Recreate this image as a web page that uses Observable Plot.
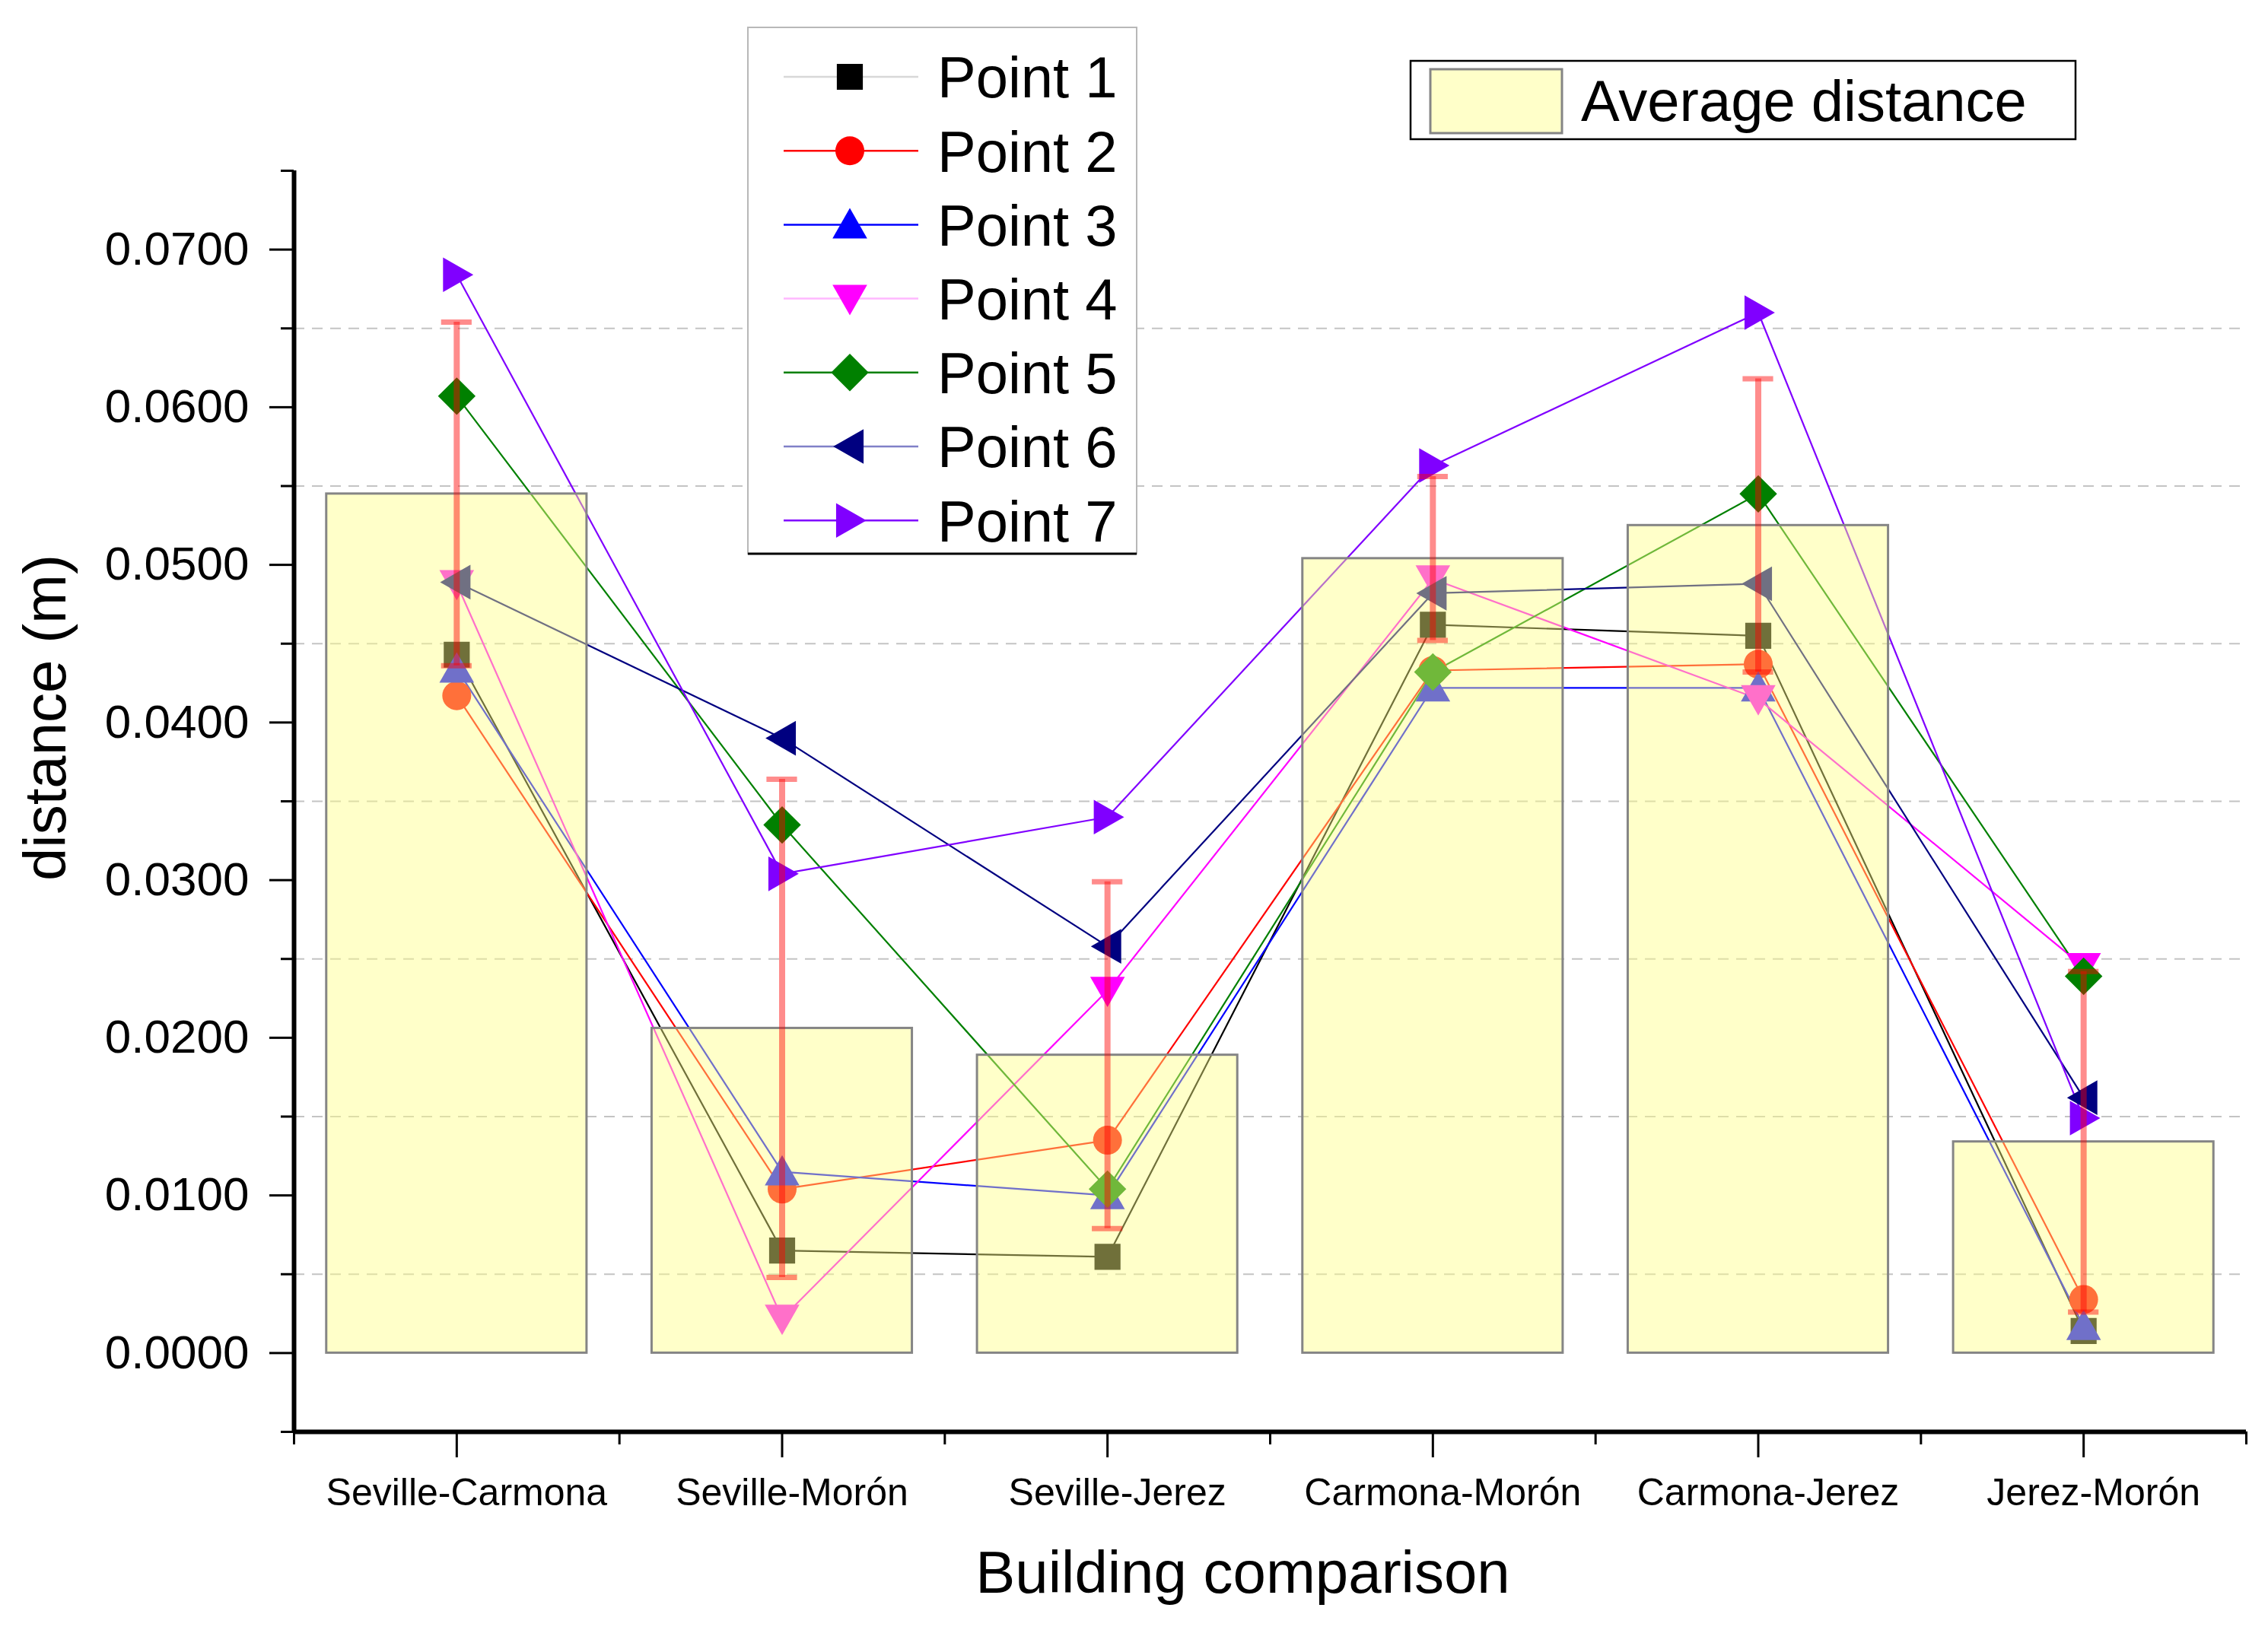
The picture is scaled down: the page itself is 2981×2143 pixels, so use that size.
<!DOCTYPE html>
<html><head><meta charset="utf-8">
<script src="https://cdn.jsdelivr.net/npm/d3@7"></script>
<script src="https://cdn.jsdelivr.net/npm/@observablehq/plot@0.6"></script>
<style>
html,body{margin:0;padding:0;background:#fff}
#wrap{position:relative;width:2981px;height:2143px}
#legend{position:absolute;left:0;top:0;pointer-events:none}
</style>
</head><body><div id="wrap"></div>
<script>
// ---------- data ----------
const categories = ["Seville-Carmona","Seville-Morón","Seville-Jerez","Carmona-Morón","Carmona-Jerez","Jerez-Morón"];
const avgDistance = [0.0545, 0.0206, 0.0189, 0.0504, 0.0525, 0.0134];
const stdDev      = [0.0109, 0.0158, 0.0110, 0.0052, 0.0093, 0.0108];
const point1 = [0.0443, 0.0065, 0.0061, 0.0462, 0.0455, 0.0014];
const point2 = [0.0417, 0.0104, 0.0135, 0.0433, 0.0437, 0.0034];
const point3 = [0.0434, 0.0115, 0.0100, 0.0422, 0.0422, 0.0017];
const point4 = [0.0488, 0.0022, 0.0230, 0.0491, 0.0415, 0.0245];
const point5 = [0.0607, 0.0335, 0.0104, 0.0432, 0.0545, 0.0239];
const point6 = [0.0489, 0.0390, 0.0258, 0.0482, 0.0488, 0.0162];
const point7 = [0.0684, 0.0304, 0.0340, 0.0563, 0.0660, 0.0149];
const seriesNames = ["Point 1","Point 2","Point 3","Point 4","Point 5","Point 6","Point 7"];
const seriesValues = [point1, point2, point3, point4, point5, point6, point7];
const yMajorTicks = [0, 0.01, 0.02, 0.03, 0.04, 0.05, 0.06, 0.07];
const yMinorTicks = [-0.005, 0.005, 0.015, 0.025, 0.035, 0.045, 0.055, 0.065, 0.075];
const gridValues  = [0.005, 0.015, 0.025, 0.035, 0.045, 0.055, 0.065];
const barLegendLabel = "Average distance";
const xTitle = "Building comparison";
const yTitle = "distance (m)";

// ---------- styles ----------
const seriesColors = ["#000000","#ff0000","#0000ff","#ff00ff","#008000","#000080","#8000ff"];
const legendLineColors = ["#d8d8d8","#ff0000","#0000ff","#ffb8ff","#008000","#8080c8","#8000ff"];
function poly(ctx, pts){ ctx.moveTo(pts[0][0],pts[0][1]); for(let k=1;k<pts.length;k++) ctx.lineTo(pts[k][0],pts[k][1]); ctx.closePath(); }
const rad = s => Math.sqrt(s/Math.PI);
const squareSym = {draw(ctx,s){const h=0.9*rad(s); poly(ctx,[[-h,-h],[h,-h],[h,h],[-h,h]]);}};
const circleSym = {draw(ctx,s){const r=rad(s); ctx.moveTo(r,0); ctx.arc(0,0,r,0,2*Math.PI);}};
const diamondSym = {draw(ctx,s){const h=1.3*rad(s); poly(ctx,[[0,-h],[h,0],[0,h],[-h,0]]);}};
function tri(dir){return {draw(ctx,s){const r=rad(s),a=1.2*r,b=1.15*r,c=0.95*r;
  let p;
  if(dir==="up") p=[[0,-b],[a,c],[-a,c]];
  else if(dir==="down") p=[[0,b],[a,-c],[-a,-c]];
  else if(dir==="left") p=[[-b,0],[c,-a],[c,a]];
  else p=[[b,0],[-c,-a],[-c,a]];
  poly(ctx,p);}};}
const seriesSymbols = [squareSym, circleSym, tri("up"), tri("down"), diamondSym, tri("left"), tri("right")];
const R = 19;
const fontFamily = "'Liberation Sans', Arial, Helvetica, sans-serif";

// ---------- tables ----------
const rows = categories.map((c,i)=>({i, cat:c, avg:avgDistance[i], sd:stdDev[i], lo:avgDistance[i]-stdDev[i], hi:avgDistance[i]+stdDev[i]}));
const pointRows = seriesValues.map(vals => vals.map((v,i)=>({i, v})));
const barHalf = 0.4, capHalf = 0.047;

const marks = [
  Plot.ruleY(gridValues, {stroke:"#c4c4c4", strokeWidth:2, strokeDasharray:"14,10"}),
];
pointRows.forEach((d,s)=>marks.push(Plot.line(d,{x:"i", y:"v", stroke:seriesColors[s], strokeWidth:2.2})));
pointRows.forEach((d,s)=>marks.push(Plot.dot(d,{x:"i", y:"v", r:R, symbol:seriesSymbols[s], fill:seriesColors[s], stroke:"none"})));
marks.push(
  Plot.rect(rows,{x1:d=>d.i-barHalf, x2:d=>d.i+barHalf, y1:0, y2:"avg", fill:"#ffff84", fillOpacity:0.44, stroke:"#858585", strokeWidth:3}),
  Plot.ruleX(rows,{x:"i", y1:"lo", y2:"hi", stroke:"#ff0000", strokeOpacity:0.45, strokeWidth:8}),
  Plot.ruleY(rows,{y:"hi", x1:d=>d.i-capHalf, x2:d=>d.i+capHalf, stroke:"#ff0000", strokeOpacity:0.45, strokeWidth:7}),
  Plot.ruleY(rows,{y:"lo", x1:d=>d.i-capHalf, x2:d=>d.i+capHalf, stroke:"#ff0000", strokeOpacity:0.45, strokeWidth:7}),
  // axes
  Plot.axisY({ticks:yMajorTicks, tickFormat:d3.format(".4f"), tickSize:32, tickPadding:27, fontSize:62, strokeWidth:3, label:null}),
  Plot.axisY({ticks:yMinorTicks, tickFormat:()=>"", tickSize:17, strokeWidth:3, label:null}),
  Plot.axisX({ticks:d3.range(categories.length), tickFormat:()=>"", tickSize:34, strokeWidth:3, label:null}),
  Plot.axisX({ticks:d3.range(categories.length), tickFormat:i=>categories[i], tickSize:0, tickPadding:61, fontSize:50, dx:13, label:null}),
  Plot.axisX({ticks:d3.range(categories.length+1).map(k=>k-0.5), tickFormat:()=>"", tickSize:17, strokeWidth:3, label:null}),
  Plot.ruleX([-0.5],{y1:-0.005, y2:0.075, strokeWidth:6}),
  Plot.ruleY([-0.005],{strokeWidth:6}),
  Plot.text([yTitle],{frameAnchor:"left", rotate:-90, dx:-325, dy:-110, fontSize:78, textAnchor:"middle", lineAnchor:"middle"}),
  Plot.text([xTitle],{frameAnchor:"bottom", dx:-36, dy:187, fontSize:78, textAnchor:"middle", lineAnchor:"middle"})
);

const chart = Plot.plot({
  width:2981, height:2143,
  marginLeft:386, marginRight:29, marginTop:224, marginBottom:261,
  x:{type:"linear", domain:[-0.5, categories.length-0.5]},
  y:{domain:[-0.005, 0.075]},
  style:{fontFamily, background:"#fff", color:"#000", overflow:"visible"},
  marks
});
const wrap = document.getElementById("wrap");
wrap.appendChild(chart);

// ---------- legends (overlay) ----------
const lg = d3.select(wrap).append("svg").attr("id","legend").attr("width",2981).attr("height",2143)
  .style("font-family", fontFamily);
// points legend
const L = {x0:983, y0:36, x1:1494, y1:728, rowY0:101, rowStep:97.2, lineX0:1030, lineX1:1207, markX:1117, textX:1232};
lg.append("rect").attr("x",L.x0).attr("y",L.y0).attr("width",L.x1-L.x0).attr("height",L.y1-L.y0)
  .attr("fill","#fff").attr("stroke","#b8b8b8").attr("stroke-width",2);
lg.append("line").attr("x1",L.x0).attr("x2",L.x1).attr("y1",L.y1).attr("y2",L.y1).attr("stroke","#000").attr("stroke-width",3);
seriesNames.forEach((name,s)=>{
  const y = L.rowY0 + s*L.rowStep;
  lg.append("line").attr("x1",L.lineX0).attr("x2",L.lineX1).attr("y1",y).attr("y2",y)
    .attr("stroke",legendLineColors[s]).attr("stroke-width",2.5);
  lg.append("path").attr("d", d3.symbol(seriesSymbols[s], Math.PI*R*R)())
    .attr("transform",`translate(${L.markX},${y})`).attr("fill",seriesColors[s]);
  lg.append("text").attr("x",L.textX).attr("y",y).attr("dy","0.36em").attr("font-size",76).text(name);
});
// bar legend
const B = {x0:1854, y0:80, x1:2728, y1:183, sx0:1880, sy0:91, sx1:2053, sy1:175, textX:2078};
lg.append("rect").attr("x",B.x0).attr("y",B.y0).attr("width",B.x1-B.x0).attr("height",B.y1-B.y0)
  .attr("fill","#fff").attr("stroke","#000").attr("stroke-width",2.5);
lg.append("rect").attr("x",B.sx0).attr("y",B.sy0).attr("width",B.sx1-B.sx0).attr("height",B.sy1-B.sy0)
  .attr("fill","#ffff84").attr("fill-opacity",0.44).attr("stroke","#858585").attr("stroke-width",3);
lg.append("text").attr("x",B.textX).attr("y",(B.y0+B.y1)/2).attr("dy","0.36em").attr("font-size",76).text(barLegendLabel);
</script></body></html>
